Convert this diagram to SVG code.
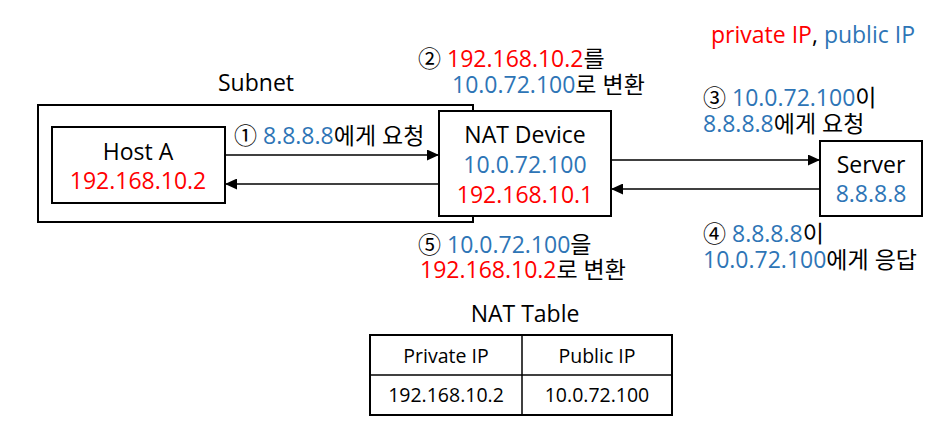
<svg xmlns="http://www.w3.org/2000/svg" width="932" height="433" viewBox="0 0 932 433">
<style>
text{font-family:"Open Sans","Noto Sans CJK KR",sans-serif;fill:#000;}
.t{font-size:23px;}
.s{font-size:19.5px;}
.r{fill:#FF0000;}
.b{fill:#2E75B6;}
.box{fill:#fff;stroke:#000;stroke-width:2;}
.ln{stroke:#000;stroke-width:1.3;fill:none;}
</style>
<defs>
<marker id="ah" viewBox="0 0 12 11" refX="12" refY="5.5" markerWidth="12" markerHeight="11" markerUnits="userSpaceOnUse" orient="auto">
<path d="M0,0 L12,5.5 L0,11 z" fill="#000"/>
</marker>
</defs>
<rect width="932" height="433" fill="#fff"/>
<text class="t" x="915" y="43" text-anchor="end"><tspan class="r">private IP</tspan>, <tspan class="b">public IP</tspan></text>
<g id="subnet">
<rect class="box" x="38" y="105" width="435" height="117"/>
<text class="t" x="256" y="91" text-anchor="middle">Subnet</text>
</g>
<g id="hostA">
<rect class="box" x="52" y="127" width="173" height="76"/>
<text class="t" x="138" y="160" text-anchor="middle">Host A</text>
<text class="t r" x="138" y="189" text-anchor="middle">192.168.10.2</text>
</g>
<g id="nat">
<rect class="box" x="439" y="111" width="172" height="105"/>
<text class="t" x="525" y="143" text-anchor="middle">NAT Device</text>
<text class="t b" x="525" y="173" text-anchor="middle">10.0.72.100</text>
<text class="t r" x="525" y="203" text-anchor="middle">192.168.10.1</text>
</g>
<g id="server">
<rect class="box" x="820" y="141" width="102" height="75"/>
<text class="t" x="871" y="173" text-anchor="middle">Server</text>
<text class="t b" x="871" y="202" text-anchor="middle">8.8.8.8</text>
</g>
<g id="connectors">
<line class="ln" x1="225" y1="155" x2="439" y2="155" marker-end="url(#ah)"/>
<line class="ln" x1="439" y1="184" x2="225" y2="184" marker-end="url(#ah)"/>
<line class="ln" x1="611" y1="160" x2="820" y2="160" marker-end="url(#ah)"/>
<line class="ln" x1="820" y1="189" x2="611" y2="189" marker-end="url(#ah)"/>
</g>
<g id="labels">
<text class="t" x="234" y="144">① <tspan class="b">8.8.8.8</tspan>에게 요청</text>
<text class="t" x="418" y="67">② <tspan class="r">192.168.10.2</tspan>를</text>
<text class="t" x="452" y="93"><tspan class="b">10.0.72.100</tspan>로 변환</text>
<text class="t" x="418" y="253">⑤ <tspan class="b">10.0.72.100</tspan>을</text>
<text class="t" x="420" y="278"><tspan class="r">192.168.10.2</tspan>로 변환</text>
<text class="t" x="703" y="106">③ <tspan class="b">10.0.72.100</tspan>이</text>
<text class="t" x="703" y="132"><tspan class="b">8.8.8.8</tspan>에게 요청</text>
<text class="t" x="703" y="242">④ <tspan class="b">8.8.8.8</tspan>이</text>
<text class="t" x="703" y="268"><tspan class="b">10.0.72.100</tspan>에게 응답</text>
</g>
<g id="natTable">
<text class="t" x="525" y="322" text-anchor="middle">NAT Table</text>
<rect x="370" y="335" width="302" height="80" fill="#fff" stroke="#000" stroke-width="2"/>
<line x1="522" y1="335" x2="522" y2="415" stroke="#000" stroke-width="1.5"/>
<line x1="370" y1="375" x2="672" y2="375" stroke="#000" stroke-width="1.5"/>
<text class="s" x="446" y="363" text-anchor="middle">Private IP</text>
<text class="s" x="597" y="363" text-anchor="middle">Public IP</text>
<text class="s" x="446" y="402" text-anchor="middle">192.168.10.2</text>
<text class="s" x="597" y="402" text-anchor="middle">10.0.72.100</text>
</g>
</svg>
